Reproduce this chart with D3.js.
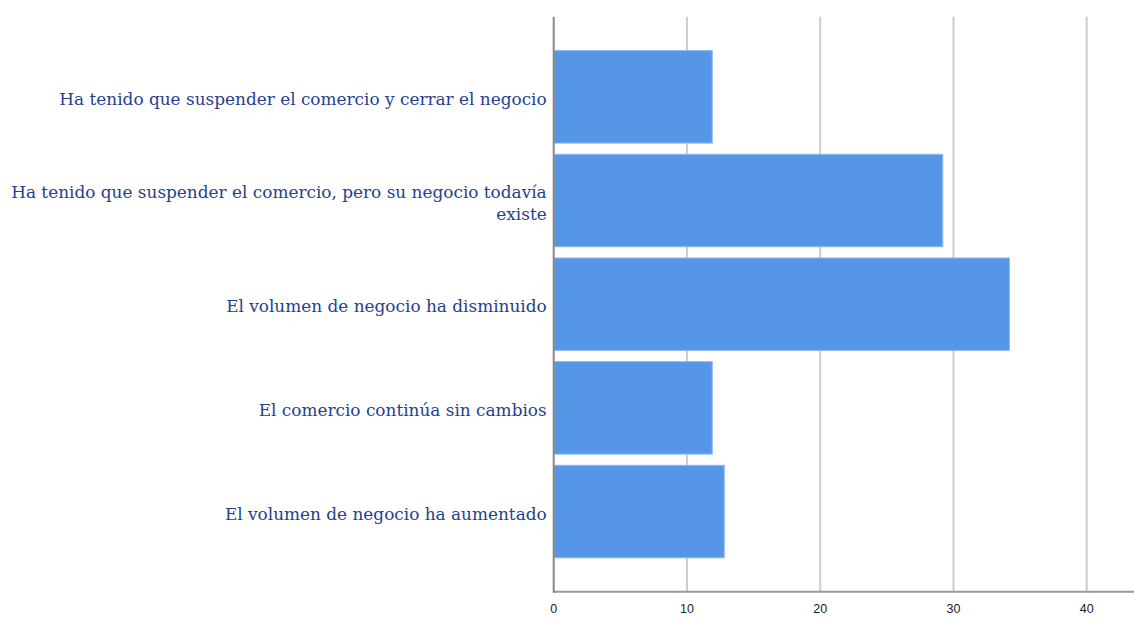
<!DOCTYPE html>
<html>
<head>
<meta charset="utf-8">
<script src="https://cdn.jsdelivr.net/npm/d3@7"></script>
<style>
  body { margin: 0; background: #ffffff; }
  svg { display: block; }
</style>
</head>
<body>
<div id="chart"></div>
<script>
// categories (top to bottom) and values
const categories = [
  'Ha tenido que suspender el comercio y cerrar el negocio',
  'Ha tenido que suspender el comercio, pero su negocio todavía existe',
  'El volumen de negocio ha disminuido',
  'El comercio continúa sin cambios',
  'El volumen de negocio ha aumentado'
]
const values = [11.9, 29.2, 34.2, 11.9, 12.8]
const xTicks = [0, 10, 20, 30, 40]
// line breaks used for the long label
const labelLines = [
  ['Ha tenido que suspender el comercio y cerrar el negocio'],
  ['Ha tenido que suspender el comercio, pero su negocio todavía', 'existe'],
  ['El volumen de negocio ha disminuido'],
  ['El comercio continúa sin cambios'],
  ['El volumen de negocio ha aumentado']
]

const width = 1134, height = 617
const plotLeft = 553.7, plotRight = 1134, plotTop = 16.7, plotBottom = 591.7

const svg = d3.select('#chart')
  .append('svg')
    .attr('width', width)
    .attr('height', height)

const x = d3.scaleLinear()
  .domain([0, 40])
  .range([plotLeft, 1086.7])

const y = d3.scaleBand()
  .domain(categories)
  .range([plotTop, plotBottom])
  .paddingInner(0.108)
  .paddingOuter(0.327)

// vertical grid lines
svg.append('g')
  .selectAll('line')
  .data(xTicks.filter(d => d > 0))
  .enter()
  .append('line')
    .attr('x1', d => x(d))
    .attr('x2', d => x(d))
    .attr('y1', plotTop)
    .attr('y2', plotBottom)
    .style('stroke', '#cccccc')
    .style('stroke-width', 2)

// bars
svg.append('g')
  .selectAll('rect')
  .data(categories)
  .enter()
  .append('rect')
    .attr('x', x(0))
    .attr('y', d => y(d))
    .attr('width', (d, i) => x(values[i]) - x(0))
    .attr('height', y.bandwidth())
    .style('fill', '#5597e6')
    .style('stroke', '#8db9ee')
    .style('stroke-width', 1)

// baseline and left axis line
svg.append('line')
  .attr('x1', plotLeft).attr('x2', plotRight)
  .attr('y1', plotBottom).attr('y2', plotBottom)
  .style('stroke', '#999999')
  .style('stroke-width', 2)

svg.append('line')
  .attr('x1', plotLeft).attr('x2', plotLeft)
  .attr('y1', plotTop).attr('y2', plotBottom + 1)
  .style('stroke', '#888888')
  .style('stroke-width', 2)

// x tick labels
svg.append('g')
  .selectAll('text')
  .data(xTicks)
  .enter()
  .append('text')
    .attr('x', d => x(d))
    .attr('y', 613)
    .attr('text-anchor', 'middle')
    .style('font-family', '"Liberation Sans", Arial, sans-serif')
    .style('font-size', '12.5px')
    .style('fill', '#222222')
    .text(d => d)

// category labels
const labels = svg.append('g')
  .selectAll('text')
  .data(categories)
  .enter()
  .append('text')
    .attr('text-anchor', 'end')
    .style('font-family', '"DejaVu Serif", serif')
    .style('font-size', '16.9px')
    .style('fill', '#24408f')
    .attr('transform', (d, i) => {
      const n = labelLines[i].length
      const cy = y(d) + y.bandwidth() / 2
      return 'translate(' + (plotLeft - 7) + ',' + (cy - (n - 1) * 11 + 8) + ')'
    })

labels.selectAll('tspan')
  .data((d, i) => labelLines[i])
  .enter()
  .append('tspan')
    .attr('x', 0)
    .attr('dy', (d, i) => i === 0 ? 0 : 22)
    .text(d => d)
</script>
</body>
</html>
